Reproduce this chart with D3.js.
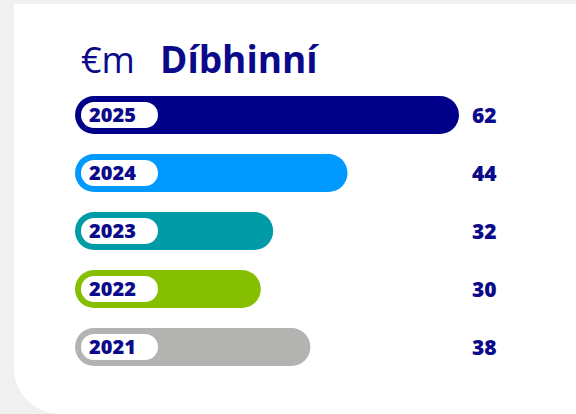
<!DOCTYPE html>
<html>
<head>
<meta charset="utf-8">
<script src="https://cdn.jsdelivr.net/npm/d3@7"></script>
<style>
  body { margin: 0; background: #f0f0f0; }
  svg { display: block; }
  text { font-family: "Open Sans", "Noto Sans", sans-serif; }
</style>
</head>
<body>
<div id="chart"></div>
<script>
var years = ["2025", "2024", "2023", "2022", "2021"];
var values = [62, 44, 32, 30, 38];
var colors = ["#000088", "#0099ff", "#009ba6", "#86bf00", "#b3b4b2"];

var width = 576,
	height = 414;

var navy = "#0a0a8a";

var svg = d3.select("#chart")
	.append("svg")
	.attr("width", width)
	.attr("height", height);

// white card, only the bottom-left corner is rounded
var r = 46;
svg.append("path")
	.attr("d", "M14,4 H" + width + " V" + height + " H" + (14 + r) +
		" A" + r + "," + r + " 0 0 1 14," + (height - r) + " Z")
	.attr("fill", "#fff");

// title
var title = svg.append("text")
	.attr("y", 73)
	.attr("fill", navy)
	.style("font-size", "36px");
title.append("tspan").attr("x", 81).text("€m");
title.append("tspan").attr("x", 160).attr("font-weight", 700)
	.style("font-size", "37px").text("Díbhinní");

var x = d3.scaleLinear().domain([0, 62]).range([0, 384]);

var y = d3.scaleBand()
	.domain(years)
	.range([86, 376])
	.paddingInner(20 / 58)
	.paddingOuter(10 / 58);

var rows = svg.selectAll(".row")
	.data(years)
	.enter().append("g")
	.attr("class", "row")
	.attr("transform", function(d) { return "translate(0," + y(d) + ")"; });

var bh = y.bandwidth();

rows.append("rect")
	.attr("x", 75)
	.attr("width", function(d, i) { return x(values[i]); })
	.attr("height", bh)
	.attr("rx", bh / 2)
	.attr("fill", function(d, i) { return colors[i]; });

// white pill holding the year
rows.append("rect")
	.attr("x", 81)
	.attr("y", 6)
	.attr("width", 77)
	.attr("height", 26)
	.attr("rx", 13)
	.attr("fill", "#fff");

rows.append("text")
	.attr("x", 89)
	.attr("y", bh / 2)
	.attr("dy", "0.36em")
	.attr("fill", navy)
	.attr("font-weight", 800)
	.style("font-size", "20px")
	.text(function(d) { return d; });

rows.append("text")
	.attr("x", 472)
	.attr("y", bh / 2)
	.attr("dy", "0.36em")
	.attr("fill", navy)
	.attr("font-weight", 800)
	.style("font-size", "21px")
	.text(function(d, i) { return values[i]; });
</script>
</body>
</html>
